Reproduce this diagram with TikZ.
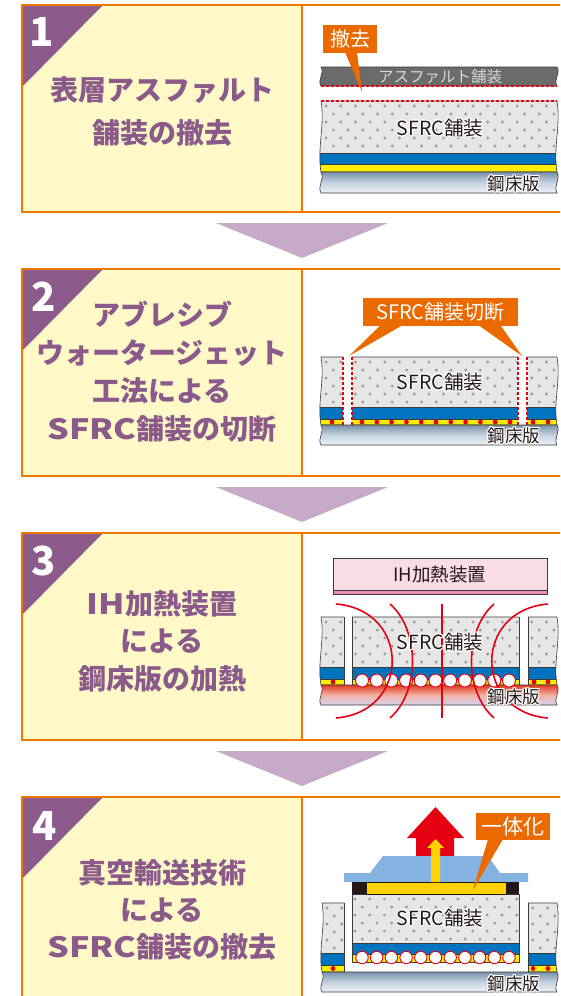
\documentclass[tikz,border=0pt]{standalone}
\usepackage{fontspec}
\setmainfont{Noto Sans CJK JP}
\newfontfamily\widelatin{Noto Sans CJK JP}[FakeStretch=1.22]
\usetikzlibrary{calc}

\definecolor{frameorange}{HTML}{EE7800}
\definecolor{calloutorange}{HTML}{EB6A00}
\definecolor{stepplum}{HTML}{8C5B8C}
\definecolor{titleplum}{HTML}{8A5A8B}
\definecolor{cream}{HTML}{FFF9C7}
\definecolor{flowlilac}{HTML}{C7A9C8}
\definecolor{asphaltgray}{HTML}{6B6B6B}
\definecolor{concretegray}{HTML}{E6E6E6}
\definecolor{fibredot}{HTML}{9C9C9C}
\definecolor{membraneblue}{HTML}{0074BF}
\definecolor{bondyellow}{HTML}{FFEE00}
\definecolor{steeltop}{HTML}{7A92AB}
\definecolor{steelmid}{HTML}{C5D2E0}
\definecolor{steelbot}{HTML}{EEF2F7}
\definecolor{heatred}{HTML}{E23B25}
\definecolor{heatmid}{HTML}{F2B2A4}
\definecolor{heatbot}{HTML}{D2D3EE}
\definecolor{fieldred}{HTML}{E50012}
\definecolor{ihpink}{HTML}{FADCE7}
\definecolor{ihstripe}{HTML}{EF8DB6}
\definecolor{liftblue}{HTML}{84B3E1}
\definecolor{liftyellow}{HTML}{FFD200}
\definecolor{inkdark}{HTML}{231815}
\definecolor{edgegray}{HTML}{3A3A3A}

% band with broken (wavy) left and right ends: x1, x2, ytop, ybottom, path options
\newcommand\wavyband[5]{%
  \path[#5] (#1,#3) -- (#2,#3)
    .. controls ({#2+4},{#3+(#4-#3)/3}) and ({#2-4},{#3+2*(#4-#3)/3}) .. (#2,#4)
    -- (#1,#4)
    .. controls ({#1-4},{#3+2*(#4-#3)/3}) and ({#1+4},{#3+(#4-#3)/3}) .. (#1,#3) -- cycle;}

% fibre dots of the SFRC layer: x1, ytop
\newcommand\fibredots[2]{%
  \foreach \i in {0,...,5}{\foreach \j in {0,...,16}{%
    \fill[fibredot] ({#1+5+14.7*\j+7.35*mod(\i,2)},{#2+5+8*\i}) circle (1.6);}}}

% dark text with a white halo: name, x, y, size, text
\newcommand\halolabel[5]{%
  \foreach \hx/\hy in {1.2/0,-1.2/0,0/1.2,0/-1.2,0.85/0.85,-0.85/0.85,0.85/-0.85,-0.85/-0.85}{%
    \node[text=white,font=\fontsize{#4}{#4}\selectfont,inner sep=0] at ({#2+\hx},{#3+\hy}) {#5};}%
  \node[text=inkdark,font=\fontsize{#4}{#4}\selectfont,inner sep=0] (#1) at (#2,#3) {#5};}

% one step frame: top y
\newcommand\stepframe[1]{%
  \fill[cream] (22,#1) rectangle (302,{#1+207});
  \fill[stepplum] (22,#1) -- (103,#1) -- (22,{#1+82}) -- cycle;
  \draw[frame] (22,#1) rectangle (590,{#1+207});
  \draw[frame] (302,#1) -- (302,{#1+207});}

\begin{document}
\begin{tikzpicture}[x=1pt,y=-1pt,
  frame/.style={draw=frameorange,line width=2.4},
  stepno/.style={text=white,font=\bfseries\fontsize{40}{40}\selectfont,inner sep=0},
  steptitle/.style={text=titleplum,font=\bfseries\fontsize{28}{#1}\selectfont,align=center,inner sep=0},
  callout/.style={fill=calloutorange,text=white,inner sep=0,font=\fontsize{#1}{#1}\selectfont},
  layeredge/.style={draw=edgegray,line width=0.6},
  cutdash/.style={draw=fieldred,line width=1.1,dash pattern=on 3pt off 2pt},
  fieldline/.style={draw=fieldred,line width=1.6},
  bead/.style={fill=white,draw=fieldred,line width=0.9},
  reddot/.style={fill=fieldred}]

\useasboundingbox (0,0) rectangle (560,996);
\clip (0,0) rectangle (560,996);

% ---------- frames and flow arrows ----------
\stepframe{5}
\stepframe{269}
\stepframe{533}
\stepframe{797}
\foreach \t in {5,269,533}{
  \fill[flowlilac] (216,{\t+218}) -- (388,{\t+218}) -- (302,{\t+253}) -- cycle;}

% ---------- step titles ----------
\node[stepno] (n1) at (42,32) {1};
\node[stepno] (n2) at (44,297) {2};
\node[stepno] (n3) at (44,561) {3};
\node[stepno] (n4) at (45,826) {4};

\node[steptitle=43] (t1) at (162,112) {表層アスファルト\\舗装の撤去};
\node[steptitle=38] (t2) at (162,372) {アブレシブ\\ウォータージェット\\工法による\\{\widelatin SFRC}舗装の切断};
\node[steptitle=37.5] (t3) at (162,641) {{\widelatin IH}加熱装置\\による\\鋼床版の加熱};
\node[steptitle=37] (t4) at (162,910) {真空輸送技術\\による\\{\widelatin SFRC}舗装の撤去};

% ---------- step 1: removal of the asphalt surface ----------
\wavyband{321}{557}{67}{86}{fill=asphaltgray,layeredge}
\node[text=white!85!black,font=\fontsize{15.5}{15.5}\selectfont,inner sep=0] (asph) at (440,76.5) {アスファルト舗装};
\draw[cutdash] (321,86) -- (557,86);
\begin{scope}
  \wavyband{321}{557}{101}{172}{clip}
  \fill[concretegray] (300,101) rectangle (580,153);
  \fibredots{321}{101}
  \fill[membraneblue] (300,153) rectangle (580,164);
  \fill[bondyellow] (300,164) rectangle (580,172);
  \draw[layeredge] (300,153) -- (580,153) (300,164) -- (580,164);
\end{scope}
\wavyband{321}{557}{101}{172}{layeredge}
\draw[cutdash] (321,101) -- (557,101);
\wavyband{321}{557}{172}{193}{top color=steeltop,bottom color=steelbot,middle color=steelmid,layeredge}
\halolabel{sfrc1}{440}{128}{19.5}{SFRC舗装}
\halolabel{deck1}{514}{184}{17.5}{鋼床版}
\node[callout=20,minimum width=54,minimum height=28] (rm1) at (350,39) {撤去};
\fill[calloutorange] ($(rm1.south)+(-5,-1)$) -- ($(rm1.south)+(7,-1)$) -- (362,92) -- cycle;

% ---------- step 2: abrasive water-jet cutting ----------
\begin{scope}
  \wavyband{321}{557}{357}{425}{clip}
  \fill[concretegray] (300,357) rectangle (580,407);
  \fibredots{321}{357}
  \fill[membraneblue] (300,407) rectangle (580,419);
  \fill[bondyellow] (300,419) rectangle (580,425);
  \draw[layeredge] (300,407) -- (580,407) (300,419) -- (580,419);
  \foreach \x in {332,362,376.8,391.6,406.4,421.2,436,450.8,465.6,480.4,495.2,510,533,548}{
    \fill[reddot] (\x,422) circle (2.4);}
\end{scope}
\wavyband{321}{557}{357}{425}{layeredge}
\fill[white] (343,355) rectangle (352,425);
\fill[white] (518,355) rectangle (527,425);
\foreach \x in {343,352,518,527}{\draw[cutdash] (\x,357) -- (\x,425);}
\wavyband{321}{557}{425}{445}{top color=steeltop,bottom color=steelbot,middle color=steelmid,layeredge}
\halolabel{sfrc2}{440}{382}{19.5}{SFRC舗装}
\halolabel{deck2}{514}{436}{17.5}{鋼床版}
\node[callout=20,minimum width=155,minimum height=28] (cut2) at (440.5,312) {SFRC舗装切断};
\coordinate (cutL) at (349,356);
\coordinate (cutR) at (522,356);
\fill[calloutorange] ($(cut2.south)+(-60,-1)$) -- ($(cut2.south)+(-38,-1)$) -- (cutL) -- cycle;
\fill[calloutorange] ($(cut2.south)+(38,-1)$) -- ($(cut2.south)+(60,-1)$) -- (cutR) -- cycle;

% ---------- step 3: induction heating of the steel deck ----------
\fill[ihpink] (333,558) rectangle (547,590);
\fill[ihstripe] (333,590) rectangle (547,594);
\draw[layeredge] (333,558) rectangle (547,594) (333,590) -- (547,590);
\node[text=inkdark,font=\fontsize{18.5}{18.5}\selectfont,inner sep=0] (ih) at (440,574) {IH加熱装置};
\begin{scope}
  \wavyband{321}{557}{617}{685}{clip}
  \fill[concretegray] (300,617) rectangle (580,667);
  \fibredots{321}{617}
  \fill[membraneblue] (300,667) rectangle (580,679);
  \fill[bondyellow] (300,679) rectangle (580,685);
  \draw[layeredge] (300,667) -- (580,667) (300,679) -- (580,679);
  \foreach \x in {333,534,548}{\fill[reddot] (\x,682) circle (2.4);}
\end{scope}
\wavyband{321}{557}{617}{685}{layeredge}
\fill[white] (344,615) rectangle (352,685);
\fill[white] (519,615) rectangle (528,685);
\draw[layeredge] (344,617) -- (344,685) (352,617) -- (352,685) (519,617) -- (519,685) (528,617) -- (528,685);
\wavyband{321}{557}{685}{705}{top color=heatred,bottom color=heatbot,middle color=heatmid,layeredge}
\foreach \k in {0,...,10}{\draw[bead] ({362+14.7*\k},680.5) circle (6.5);}
% magnetic field lines
\draw[fieldline] (336,604) .. controls (411,610) and (411,712) .. (336,718);
\draw[fieldline] (390,604) .. controls (420,630) and (420,692) .. (390,718);
\draw[fieldline] (442,604) -- (442,718);
\draw[fieldline] (494,604) .. controls (464,630) and (464,692) .. (494,718);
\draw[fieldline] (548,604) .. controls (473,610) and (473,712) .. (548,718);
\halolabel{sfrc3}{440}{642}{19.5}{SFRC舗装}
\halolabel{deck3}{514}{697}{17.5}{鋼床版}

% ---------- step 4: vacuum lifting of the SFRC slab ----------
\begin{scope}
  \wavyband{322}{557}{903}{972}{clip}
  \fill[concretegray] (300,903) rectangle (580,953);
  \fibredots{322}{903}
  \fill[membraneblue] (300,953) rectangle (580,965);
  \fill[bondyellow] (300,965) rectangle (580,972);
  \draw[layeredge] (300,953) -- (580,953) (300,965) -- (580,965);
  \foreach \x in {333,533,548}{\fill[reddot] (\x,968.5) circle (2.4);}
\end{scope}
\wavyband{322}{557}{903}{972}{layeredge}
\fill[white] (344,895) rectangle (528,972);
\draw[layeredge] (344,903) -- (344,972) (528,903) -- (528,972);
\wavyband{322}{557}{972}{992}{top color=steeltop,bottom color=steelbot,middle color=steelmid,layeredge}
% lifted slab
\begin{scope}
  \clip (352,894) rectangle (519,962);
  \fill[concretegray] (352,894) rectangle (519,943);
  \fibredots{350}{894}
  \fill[membraneblue] (352,943) rectangle (519,954);
  \fill[bondyellow] (352,954) rectangle (519,962);
  \draw[layeredge] (352,943) -- (519,943) (352,954) -- (519,954);
\end{scope}
\draw[layeredge] (352,894) rectangle (519,962);
\foreach \k in {0,...,10}{\draw[bead] ({362+14.7*\k},957.5) circle (6.2);}
% lifting head
\fill[fieldred] (416,858) -- (416,838) -- (407,838) -- (435.5,807) -- (464,838) -- (454,838) -- (454,858) -- cycle;
\fill[liftblue] (383,856) -- (488,856) -- (500,873) -- (528,873) -- (528,882) -- (344,882) -- (344,873) -- (370,873) -- cycle;
\fill[liftyellow,draw=inkdark,line width=0.6] (366,882) rectangle (506,894);
\fill[inkdark] (352,882) rectangle (366,894);
\fill[inkdark] (506,882) rectangle (519,894);
\fill[liftyellow] (431,882) -- (431,848) -- (427,848) -- (435.5,839) -- (444,848) -- (440,848) -- (440,882) -- cycle;
\halolabel{sfrc4}{440}{918}{19.5}{SFRC舗装}
\halolabel{deck4}{514}{984}{17.5}{鋼床版}
\node[callout=21,minimum width=74,minimum height=27] (one4) at (513,826.5) {一体化};
\coordinate (bond4) at (473,890);
\fill[calloutorange] ($(one4.south)+(-25,-1)$) -- ($(one4.south)+(-10,-1)$) -- (bond4) -- cycle;

\end{tikzpicture}
\end{document}
